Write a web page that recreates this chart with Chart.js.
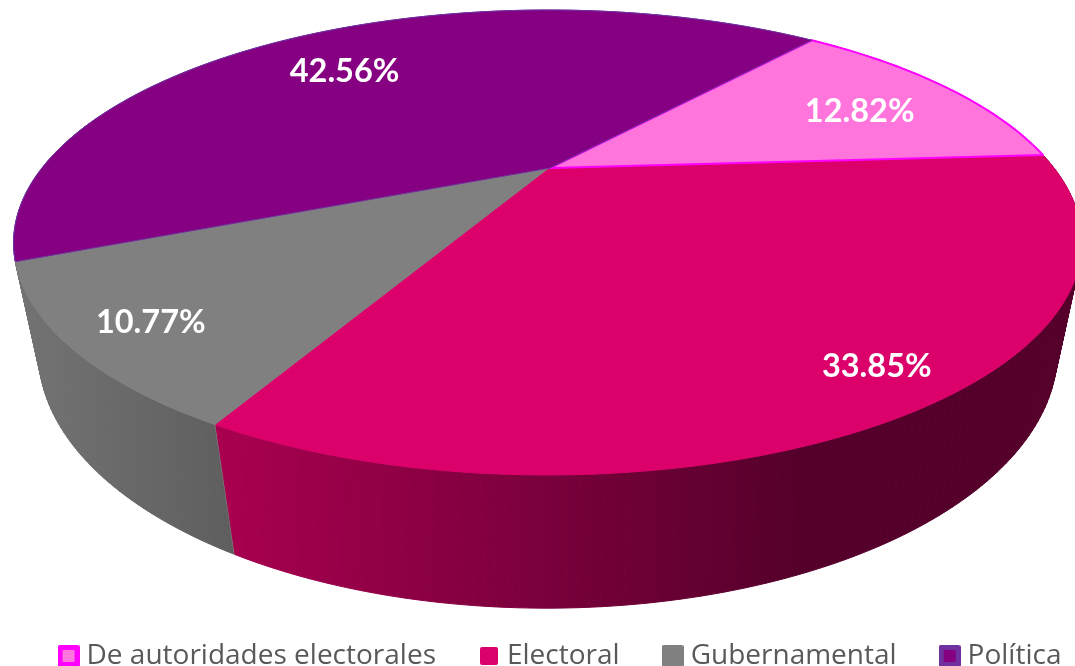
<!DOCTYPE html>
<html>
<head>
<meta charset="utf-8">
<script src="https://cdn.jsdelivr.net/npm/chart.js@4"></script>
<style>
  html, body { margin: 0; padding: 0; background: #fff; overflow: hidden; }
  canvas { display: block; }
</style>
</head>
<body>
<canvas id="grafico" width="1075" height="666"></canvas>
<script>
const categorias = ["De autoridades electorales", "Electoral", "Gubernamental", "Política"];
const porcentajes = [12.82, 33.85, 10.77, 42.56];

// Colores de cada rebanada: cara superior, borde, pared lateral (izq -> der)
const coloresCara = ["#FF75DC", "#DC006B", "#808080", "#860082"];
const coloresBorde = ["#FF00FF", "#DC006B", "#808080", "#7030A0"];
const coloresPared = [["#55002B", "#55002B"], ["#A8004F", "#55002B"], ["#727272", "#5E5E5E"], ["#7030A0", "#7030A0"]];
const rangoPared = [[800, 1075], [225, 800], [30, 237], [10, 60]];

// Ubicación de cada etiqueta dentro de su rebanada
const radioEtiqueta = [0.74, 0.88, 0.87, 0.73];
const desvioEtiqueta = [2.3, -1.65, -0.5, -4.4];

// Proyección en perspectiva del disco (círculo unidad -> pantalla)
const vista = { x: 550, y: 168, a: 506, b: 208.6, k: 0.3204, m: 0.004, d: 0.0437, fuga: 2512 };

function proyectar(u, v) {
    const w = 1 - vista.k * v + vista.m * u;
    return [vista.x + vista.a * u / w, vista.y + vista.b * v / w];
}

function proyectarBase(u, v) {
    const w = 1 - vista.k * v + vista.m * u + vista.d;
    return [vista.x + vista.a * u / w, vista.y + (vista.b * v + vista.d * vista.fuga) / w];
}

function puntosArco(inicio, fin, fn) {
    const puntos = [];
    const pasos = Math.max(8, Math.ceil((fin - inicio) * 60));
    for (let i = 0; i <= pasos; i++) {
        const t = inicio + (fin - inicio) * i / pasos;
        puntos.push(fn(Math.cos(t), Math.sin(t)));
    }
    return puntos;
}

function trazar(ctx, puntos) {
    ctx.beginPath();
    puntos.forEach((p, i) => i === 0 ? ctx.moveTo(p[0], p[1]) : ctx.lineTo(p[0], p[1]));
    ctx.closePath();
}

// Cuadrito de la leyenda: exterior, interior
function crearCuadro(exterior, lado, interior, ladoInterior) {
    const c = document.createElement("canvas");
    c.width = 22;
    c.height = 22;
    const g = c.getContext("2d");
    const m = (22 - lado) / 2;
    g.fillStyle = exterior;
    g.beginPath();
    g.roundRect(m, m, lado, lado, 2);
    g.fill();
    if (interior) {
        const n = (22 - ladoInterior) / 2;
        g.fillStyle = interior;
        g.fillRect(n, n, ladoInterior, ladoInterior);
    }
    return c;
}

const cuadros = [
    crearCuadro("#FF00FF", 22, "#FF75DC", 12),
    crearCuadro("#DC006B", 18),
    crearCuadro("#808080", 22),
    crearCuadro("#7030A0", 22, "#860082", 12)
];

const pie3d = {
    id: "pie3d",
    beforeDatasetsDraw(chart) {
        const ctx = chart.ctx;
        const arcos = chart.getDatasetMeta(0).data;
        const medio = a => (a.startAngle + a.endAngle) / 2;

        // Paredes, de atrás hacia adelante
        const orden = arcos.map((a, i) => i).sort((p, q) => Math.sin(medio(arcos[p])) - Math.sin(medio(arcos[q])));
        ctx.save();
        ctx.lineJoin = "round";
        orden.forEach(i => {
            const a = arcos[i];
            const arriba = puntosArco(a.startAngle, a.endAngle, proyectar);
            const abajo = puntosArco(a.startAngle, a.endAngle, proyectarBase);
            const grad = ctx.createLinearGradient(rangoPared[i][0], 0, rangoPared[i][1], 0);
            grad.addColorStop(0, coloresPared[i][0]);
            grad.addColorStop(1, coloresPared[i][1]);
            ctx.fillStyle = grad;
            ctx.strokeStyle = grad;
            ctx.lineWidth = 1;
            for (let j = 0; j < arriba.length - 1; j++) {
                trazar(ctx, [arriba[j], arriba[j + 1], abajo[j + 1], abajo[j]]);
                ctx.fill();
                ctx.stroke();
            }
            // arista vertical clara donde empieza la pared gris
            if (i === 2) {
                ctx.strokeStyle = "#858585";
                ctx.lineWidth = 2;
                ctx.beginPath();
                ctx.moveTo(arriba[0][0], arriba[0][1]);
                ctx.lineTo(abajo[0][0], abajo[0][1]);
                ctx.stroke();
            }
        });

        // Caras superiores
        [2, 1, 0, 3].forEach(i => {
            const a = arcos[i];
            const cara = [proyectar(0, 0)].concat(puntosArco(a.startAngle, a.endAngle, proyectar));
            trazar(ctx, cara);
            ctx.fillStyle = coloresCara[i];
            ctx.fill();
            ctx.strokeStyle = coloresBorde[i];
            ctx.lineWidth = i === 0 ? 2 : 1;
            ctx.stroke();
        });

        // Etiquetas de porcentaje
        ctx.fillStyle = "#FFFFFF";
        ctx.font = "bold 32.5px Lato";
        ctx.textAlign = "center";
        ctx.textBaseline = "middle";
        arcos.forEach((a, i) => {
            const t = medio(a) + desvioEtiqueta[i] * Math.PI / 180;
            const r = radioEtiqueta[i];
            const p = proyectar(r * Math.cos(t), r * Math.sin(t));
            ctx.fillText(porcentajes[i].toFixed(2) + "%", p[0], p[1] + 2);
        });
        ctx.restore();
        return false;
    }
};

new Chart(document.getElementById("grafico"), {
    type: "pie",
    data: {
        labels: categorias,
        datasets: [{ data: porcentajes, backgroundColor: coloresCara, borderWidth: 0 }]
    },
    options: {
        responsive: false,
        animation: false,
        rotation: 40.2,
        layout: { padding: { right: -51, bottom: -14 } },
        plugins: {
            tooltip: { enabled: false },
            legend: {
                position: "bottom",
                labels: {
                    usePointStyle: true,
                    pointStyleWidth: 8,
                    padding: 49,
                    color: "#595959",
                    font: { family: "Open Sans", size: 28 },
                    generateLabels: () => categorias.map((c, i) => ({
                        text: c,
                        pointStyle: cuadros[i],
                        fontColor: "#595959",
                        index: i
                    }))
                }
            }
        }
    },
    plugins: [pie3d]
});
</script>
</body>
</html>
